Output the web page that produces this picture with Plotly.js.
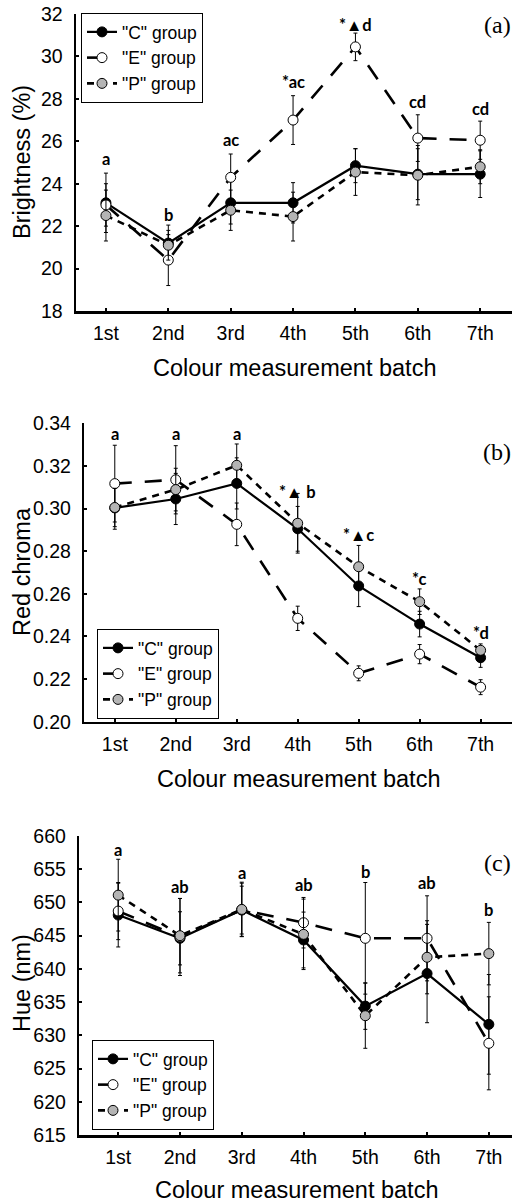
<!DOCTYPE html>
<html>
<head>
<meta charset="utf-8">
<script src="https://cdn.plot.ly/plotly-3.0.1.min.js"></script>
<style>html,body{margin:0;padding:0;background:#fff;}#chart{width:524px;height:1203px;}</style>
</head>
<body>
<div id="chart"></div>
<script>
// ---- data ----
var batches = ['1st', '2nd', '3rd', '4th', '5th', '6th', '7th'];
var groupNames = ['"C" group', '"E" group', '"P" group'];

// (a) Brightness (%)
var brightC = [23.1, 21.2, 23.1, 23.1, 24.85, 24.45, 24.45];
var brightCErr = [1.4, 0.85, 1.0, 0.95, 0.8, 1.2, 1.1];
var brightE = [23.0, 20.4, 24.3, 27.0, 30.45, 26.15, 26.05];
var brightEErr = [1.0, 1.2, 1.1, 1.15, 0.65, 1.1, 0.9];
var brightP = [22.5, 21.1, 22.75, 22.45, 24.55, 24.4, 24.8];
var brightPErr = [1.2, 0.7, 0.95, 1.15, 1.1, 1.4, 0.8];
var brightLetters = ['a', 'b', 'ac', '*ac', '*\u25B2d', 'cd', 'cd'];
var brightLetterY = [25.15, 22.52, 26.08, 28.8, 31.48, 27.87, 27.54];

// (b) Red chroma
var chromaC = [0.3003, 0.3045, 0.3118, 0.2905, 0.2637, 0.2458, 0.2300];
var chromaCErr = [0.010, 0.012, 0.012, 0.0105, 0.0097, 0.006, 0.0045];
var chromaE = [0.3117, 0.3135, 0.2926, 0.2485, 0.2227, 0.2317, 0.2162];
var chromaEErr = [0.018, 0.016, 0.010, 0.0057, 0.0035, 0.0045, 0.0035];
var chromaP = [0.3005, 0.3089, 0.3203, 0.2931, 0.2727, 0.2563, 0.2335];
var chromaPErr = [0.009, 0.010, 0.010, 0.014, 0.010, 0.006, 0.003];
var chromaLetters = ['a', 'a', 'a', '*\u25B2 b', '*\u25B2c', '*c', '*d'];
var chromaLetterY = [0.3348, 0.3348, 0.3348, 0.3076, 0.2876, 0.2668, 0.2415];

// (c) Hue (nm)
var hueC = [648.1, 644.6, 648.85, 644.35, 634.4, 639.3, 631.65];
var hueCErr = [4.8, 4.0, 3.6, 4.2, 3.5, 7.4, 7.5];
var hueE = [648.7, 644.8, 648.9, 646.95, 644.6, 644.6, 628.8];
var hueEErr = [4.3, 5.8, 4.0, 3.8, 8.4, 6.4, 7.0];
var hueP = [651.1, 645.0, 648.95, 645.2, 632.95, 641.75, 642.3];
var huePErr = [5.4, 5.6, 4.1, 5.3, 4.9, 5.5, 4.7];
var hueLetters = ['a', 'ab', 'a', 'ab', 'b', 'ab', 'b'];
var hueLetterY = [657.9, 652.4, 654.4, 652.6, 654.6, 652.9, 648.9];

// ---- styles ----
var styles = [
  {fill: '#000000', dash: 'solid', width: 2.2},
  {fill: '#ffffff', dash: '17px,13px', width: 2.6},
  {fill: '#b4b4b4', dash: '7px,6px', width: 2.6}
];

function makeTrace(i, y, err, xa, ya, leg) {
  var s = styles[i];
  return {
    type: 'scatter', mode: 'lines+markers',
    x: batches, y: y, name: groupNames[i],
    xaxis: xa, yaxis: ya, legend: leg,
    line: {color: '#000', width: s.width, dash: s.dash},
    marker: {symbol: 'circle', size: 10, color: s.fill, line: {color: '#000', width: 1}},
    error_y: {type: 'data', array: err, visible: true, color: '#000', thickness: 1, width: 2}
  };
}

var traces = [
  makeTrace(0, brightC, brightCErr, 'x', 'y', 'legend'),
  makeTrace(1, brightE, brightEErr, 'x', 'y', 'legend'),
  makeTrace(2, brightP, brightPErr, 'x', 'y', 'legend'),
  makeTrace(0, chromaC, chromaCErr, 'x2', 'y2', 'legend2'),
  makeTrace(1, chromaE, chromaEErr, 'x2', 'y2', 'legend2'),
  makeTrace(2, chromaP, chromaPErr, 'x2', 'y2', 'legend2'),
  makeTrace(0, hueC, hueCErr, 'x3', 'y3', 'legend3'),
  makeTrace(1, hueE, hueEErr, 'x3', 'y3', 'legend3'),
  makeTrace(2, hueP, huePErr, 'x3', 'y3', 'legend3')
];

var tickFont = {family: 'Liberation Sans, Arial, sans-serif', size: 19.5, color: '#000'};
function xAxis(domain, range, anchor) {
  return {
    domain: domain, type: 'category', range: range, anchor: anchor,
    showline: true, linecolor: '#000', linewidth: 2.5,
    ticks: 'inside', ticklen: 3, tickwidth: 2, tickcolor: '#000',
    showgrid: false, zeroline: false, tickfont: tickFont, ticklabelstandoff: 3,
    fixedrange: true
  };
}
function yAxis(domain, range, dtick, fmt, anchor) {
  return {
    domain: domain, range: range, dtick: dtick, tick0: range[0], tickformat: fmt,
    anchor: anchor,
    showline: true, linecolor: '#000', linewidth: 2.5,
    ticks: 'inside', ticklen: 3, tickwidth: 2, tickcolor: '#000',
    showgrid: false, zeroline: false, tickfont: tickFont, ticklabelstandoff: 7,
    fixedrange: true
  };
}

var annFont = {family: 'Lato, Open Sans, sans-serif', size: 16.5, color: '#000', weight: 'bold'};
var annotations = [];
function addLetters(letters, ys, xref, yref) {
  for (var k = 0; k < letters.length; k++) {
    annotations.push({
      x: batches[k], y: ys[k], xref: xref, yref: yref, text: '<b>' + letters[k] + '</b>',
      showarrow: false, font: annFont, xanchor: 'center', yanchor: 'middle'
    });
  }
}
addLetters(brightLetters, brightLetterY, 'x', 'y');
addLetters(chromaLetters, chromaLetterY, 'x2', 'y2');
addLetters(hueLetters, hueLetterY, 'x3', 'y3');

var W = 524, H = 1203;
function px(x) { return x / W; }
function py(y) { return 1 - y / H; }

var panelLabels = ['(a)', '(b)', '(c)'];
var panelLabelY = [25, 452, 863];
panelLabels.forEach(function (t, k) {
  annotations.push({x: px(497), y: py(panelLabelY[k]), xref: 'paper', yref: 'paper', text: t,
    showarrow: false, xanchor: 'center', yanchor: 'middle',
    font: {family: 'Liberation Serif, DejaVu Serif, serif', size: 24, color: '#000'}});
});

var yTitles = ['Brightness (%)', 'Red chroma', 'Hue (nm)'];
var yTitleY = [162, 572, 983];
var titleFont = {family: 'Liberation Sans, Arial, sans-serif', size: 23.5, color: '#000'};
yTitles.forEach(function (t, k) {
  annotations.push({x: px(22), y: py(yTitleY[k]), xref: 'paper', yref: 'paper', text: t,
    showarrow: false, textangle: -90, xanchor: 'center', yanchor: 'middle', font: titleFont});
});
var xTitleY = [368, 779, 1190];
var xTitleX = [294, 298, 296];
xTitleY.forEach(function (yy, k) {
  annotations.push({x: px(xTitleX[k]), y: py(yy), xref: 'paper', yref: 'paper',
    text: 'Colour measurement batch', showarrow: false, xanchor: 'center', yanchor: 'middle',
    font: titleFont});
});

function legendBox(x, y, yanchor) {
  return {x: x, y: y, xanchor: 'left', yanchor: yanchor, xref: 'paper', yref: 'paper',
    bgcolor: '#fff', bordercolor: '#000', borderwidth: 1,
    font: {family: 'Liberation Sans, Arial, sans-serif', size: 17.5, color: '#000'},
    itemwidth: 30, tracegroupgap: 0};
}

var layout = {
  width: W, height: H, autosize: false,
  margin: {l: 0, r: 0, t: 0, b: 0},
  paper_bgcolor: '#fff', plot_bgcolor: 'rgba(0,0,0,0)',
  showlegend: true,
  xaxis: xAxis([px(76), px(512)], [-0.48, 6.51], 'y'),
  yaxis: yAxis([py(311), py(14)], [18, 32], 2, '', 'x'),
  xaxis2: xAxis([px(84.3), px(511.7)], [-0.5, 6.51], 'y2'),
  yaxis2: yAxis([py(721.7), py(423.3)], [0.20, 0.34], 0.02, '.2f', 'x2'),
  xaxis3: xAxis([px(79.3), px(511.7)], [-0.63, 6.37], 'y3'),
  yaxis3: yAxis([py(1135), py(836)], [615, 660], 5, '', 'x3'),
  legend: legendBox(px(81), py(13), 'top'),
  legend2: legendBox(px(97), py(674), 'middle'),
  legend3: legendBox(px(92), py(1085), 'middle'),
  annotations: annotations
};

Plotly.newPlot('chart', traces, layout, {staticPlot: true, displayModeBar: false});
</script>
</body>
</html>
